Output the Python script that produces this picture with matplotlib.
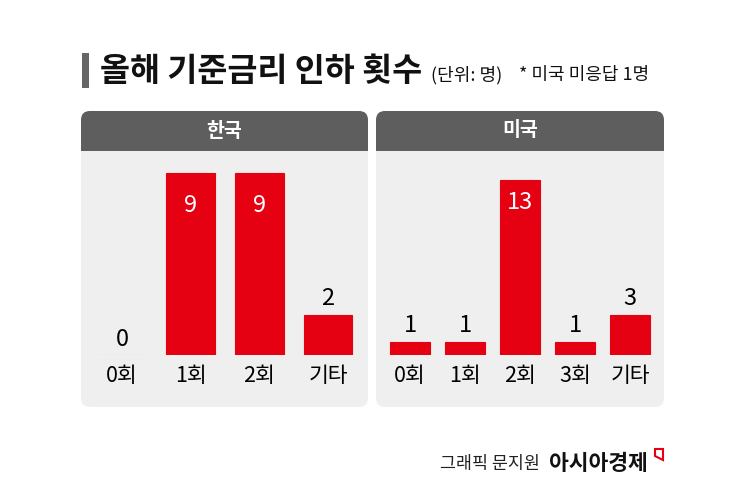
import matplotlib.pyplot as plt
from matplotlib.patches import FancyBboxPatch, Rectangle, Polygon
from matplotlib.transforms import IdentityTransform

plt.rcParams['font.family'] = ['Noto Sans CJK KR', 'DejaVu Sans']

W, H = 745, 504

title = "올해 기준금리 인하 횟수"
unit_note = "(단위: 명)"
star_note = "* 미국 미응답 1명"
credit = "그래픽 문지원"
brand = "아시아경제"

kr_title = "한국"
kr_labels = ["0회", "1회", "2회", "기타"]
kr_values = [0, 9, 9, 2]

us_title = "미국"
us_labels = ["0회", "1회", "2회", "3회", "기타"]
us_values = [1, 1, 13, 1, 3]

RED = "#e50012"
HEAD = "#5e5e5e"
PANEL = "#efefef"

fig = plt.figure(figsize=(W / 100, H / 100), dpi=100)
fig.patch.set_facecolor("white")
px = IdentityTransform()


def fy(y):
    # pixel from top -> display y
    return H - y


def panel(x0, x1, y0, y1, head_h, name):
    body = FancyBboxPatch((x0, fy(y1)), x1 - x0, y1 - y0,
                          boxstyle="round,pad=0,rounding_size=9",
                          fc=PANEL, ec="none", transform=px, zorder=1)
    head = FancyBboxPatch((x0, fy(y0 + head_h + 12)), x1 - x0, head_h + 12,
                          boxstyle="round,pad=0,rounding_size=9",
                          fc=HEAD, ec="none", transform=px, zorder=2)
    cover = Rectangle((x0, fy(y0 + head_h + 13)), x1 - x0, 13,
                      fc=PANEL, ec="none", transform=px, zorder=3)
    for p in (body, head, cover):
        fig.add_artist(p)
    fig.text((x0 + x1) / 2 / W, 1 - (y0 + head_h / 2) / H, name,
             color="white", fontsize=14, fontweight="bold",
             ha="center", va="center", zorder=4)


def bars(left, right, base, top, ymax, labels, values, inner_off):
    ax = fig.add_axes([left / W, 1 - base / H, (right - left) / W, (base - top) / H])
    ax.set_zorder(10)
    ax.patch.set_alpha(0)
    x = range(len(values))
    edges = ["#e3c2a6" if v == 0 else RED for v in values]
    b = ax.bar(x, values, width=0.71, color=RED, edgecolor=edges, linewidth=0.8)
    ax.set_xlim(-0.5, len(values) - 0.5)
    ax.set_ylim(0, ymax)
    for rect, v in zip(b, values):
        cx = rect.get_x() + rect.get_width() / 2
        if v >= 5:
            ax.annotate(str(v), (cx, v), xytext=(0, inner_off), textcoords="offset points",
                        ha="center", va="center", color="white", fontsize=17,
                        fontweight="medium")
        else:
            ax.annotate(str(v), (cx, v), xytext=(0, 3), textcoords="offset points",
                        ha="center", va="bottom", color="black", fontsize=17)
    ax.set_xticks(list(x))
    ax.set_xticklabels(labels, fontsize=15.5)
    ax.tick_params(axis="x", length=0, pad=7)
    ax.set_yticks([])
    for s in ax.spines.values():
        s.set_visible(False)
    return ax


# title block
fig.add_artist(Rectangle((82, fy(88)), 7, 35, fc="#666666", ec="none", transform=px))
fig.text(100 / W, 1 - 71 / H, title, fontsize=23.5, fontweight="bold",
         ha="left", va="center", color="#111111")
fig.text(431 / W, 1 - 75 / H, unit_note, fontsize=13, ha="left", va="center", color="#111111")
fig.text(519 / W, 1 - 75 / H, star_note, fontsize=13, ha="left", va="center", color="#111111")

# panels
panel(81, 368, 111, 407, 40, kr_title)
panel(376, 664, 111, 407, 40, us_title)

bars(87.7, 362.3, 355, 153, 10, kr_labels, kr_values, -23)
bars(382.5, 657.5, 355, 166.6, 14, us_labels, us_values, -16)

# footer
fig.text(540 / W, 1 - 464 / H, credit, fontsize=12.5, ha="right", va="center", color="#222222")
fig.text(549 / W, 1 - 463 / H, brand, fontsize=15.5, fontweight="bold", ha="left", va="center", color="#111111")
fig.add_artist(Polygon([(655, fy(449)), (663, fy(449)), (663, fy(460)), (655, fy(456))],
                       closed=True, fc="none", ec=RED, lw=1.5, transform=px))

fig.savefig("out.png", dpi=100, facecolor="white")
